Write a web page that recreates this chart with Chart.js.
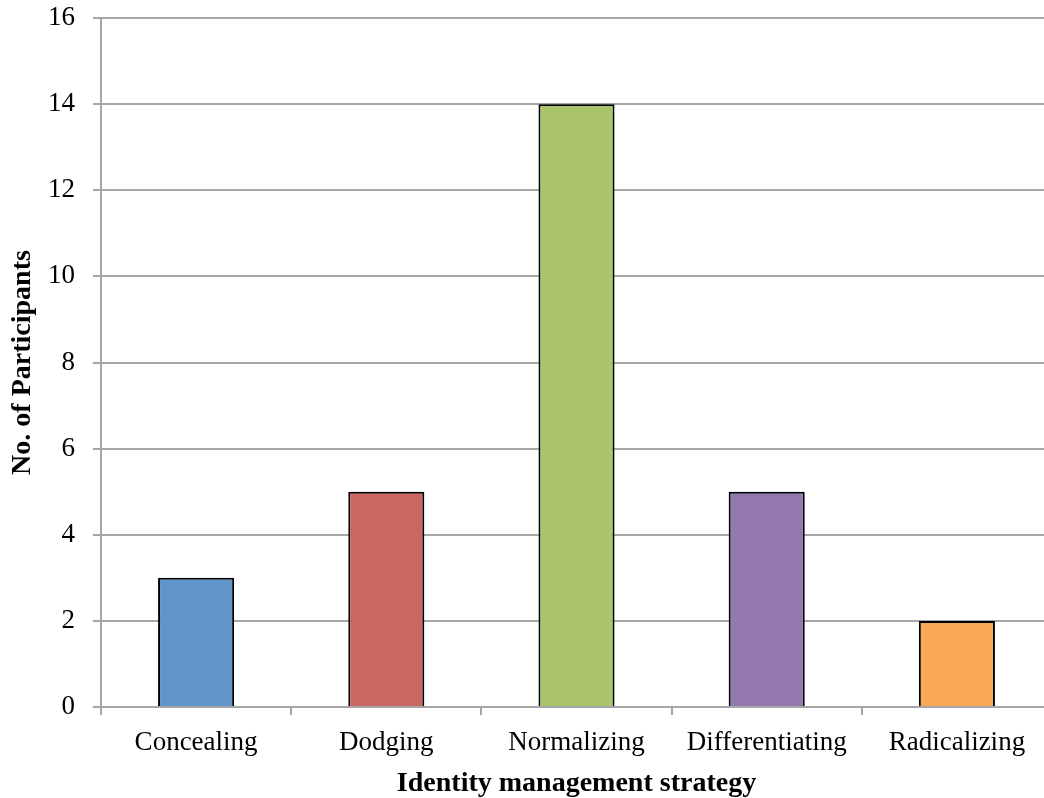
<!DOCTYPE html>
<html>
<head>
<meta charset="utf-8">
<script src="https://cdn.jsdelivr.net/npm/chart.js@4/dist/chart.umd.min.js"></script>
<style>
    html, body { margin: 0; padding: 0; background: #ffffff; overflow: hidden; }
    #wrap { width: 1052px; height: 798px; }
</style>
</head>
<body>
<div id="wrap"><canvas id="strategyChart" width="1052" height="798"></canvas></div>
<script>
// Chart data
const strategies = ['Concealing', 'Dodging', 'Normalizing', 'Differentiating', 'Radicalizing'];
const participants = [3, 5, 14, 5, 2];
const barColors = ['#6096CB', '#CC6660', '#AAC46C', '#9379AE', '#F9A857'];
const yTicks = [0, 2, 4, 6, 8, 10, 12, 14, 16];

const FONT = '"Liberation Serif", "DejaVu Serif", serif';
const GRID = '#A6A6A6';

const ctx = document.getElementById('strategyChart').getContext('2d');

window.strategyChartInstance = new Chart(ctx, {
    type: 'bar',
    data: {
        labels: strategies,
        datasets: [{
            label: 'No. of Participants',
            data: participants,
            backgroundColor: barColors,
            borderColor: '#000000',
            borderWidth: 2,
            borderSkipped: 'bottom',
            barPercentage: 0.4,
            categoryPercentage: 1.0
        }]
    },
    options: {
        responsive: false,
        animation: false,
        layout: { padding: { top: 18, right: 0, left: 6, bottom: 0 } },
        plugins: {
            legend: { display: false },
            tooltip: { enabled: false }
        },
        scales: {
            x: {
                grid: { display: true, drawOnChartArea: false, drawTicks: true, tickLength: 8, color: GRID, lineWidth: 2 },
                border: { display: true, color: GRID, width: 2 },
                ticks: { color: '#000000', font: { family: FONT, size: 27 }, padding: 12, maxRotation: 0 },
                title: {
                    display: true,
                    text: 'Identity management strategy',
                    color: '#000000',
                    font: { family: FONT, size: 28, weight: 'bold', lineHeight: 1.0 },
                    padding: { top: 2, bottom: 0 }
                },
                afterFit: function(scale) {
                    scale.height = 91;
                    scale.paddingLeft = 0;
                    scale.paddingRight = 0;
                }
            },
            y: {
                min: 0,
                max: 16,
                afterBuildTicks: function(scale) {
                    scale.ticks = yTicks.map(v => ({ value: v }));
                },
                grid: { display: true, drawTicks: true, tickLength: 8, color: GRID, lineWidth: 2 },
                border: { display: true, color: GRID, width: 2 },
                ticks: { color: '#000000', font: { family: FONT, size: 27 }, padding: 18 },
                title: {
                    display: true,
                    text: 'No. of Participants',
                    color: '#000000',
                    font: { family: FONT, size: 28, weight: 'bold' },
                    padding: { top: 0, bottom: 0 }
                },
                afterFit: function(scale) {
                    scale.width = 95;
                    // keep the plot top at the layout padding
                    scale.paddingTop = 0;
                    scale.paddingBottom = 0;
                }
            }
        }
    }
});
</script>
</body>
</html>
